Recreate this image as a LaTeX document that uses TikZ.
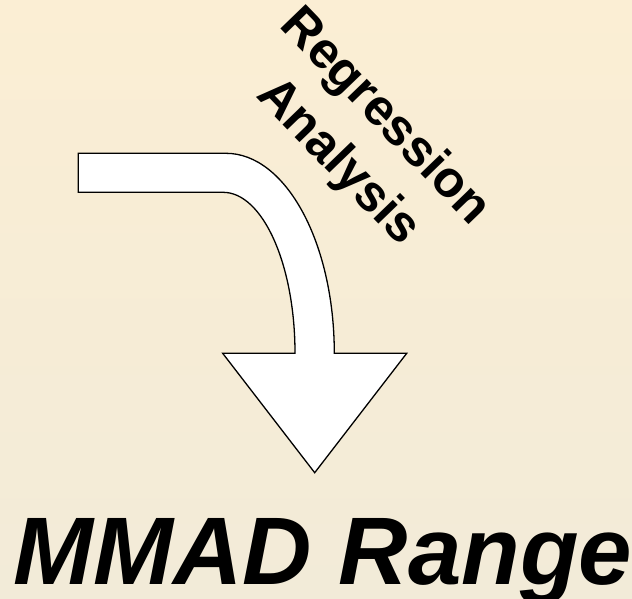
\documentclass[tikz,border=0pt]{standalone}
\usepackage{fontspec}
\setmainfont{Liberation Sans}
\definecolor{bgtop}{HTML}{FBEED4}
\definecolor{bgbottom}{HTML}{F2EBD8}
\begin{document}
\begin{tikzpicture}[x=1pt,y=-1pt,
  bentarrow/.style={draw=black,fill=white,line width=1.3pt,line join=miter},
  steplabel/.style={font=\bfseries\fontsize{51}{65}\selectfont,align=center,inner sep=0pt},
  resultlabel/.style={font=\bfseries\itshape\fontsize{96}{110}\selectfont,inner sep=0pt}]
  % background
  \shade[top color=bgtop,bottom color=bgbottom] (0,0) rectangle (632,598);
  \useasboundingbox (0,0) rectangle (632,598);
  % bent arrow
  \draw[bentarrow] (78.3,153.3) -- (226,153.3)
    .. controls (285.6,153.3) and (334.3,242.5) .. (334.3,353.3)
    -- (406.7,353.3) -- (314.7,472.7) -- (222.7,353.3) -- (295,353.3)
    .. controls (295,264) and (262.5,192.3) .. (223,192.3)
    -- (78.3,192.3) -- cycle;
  % labels
  \node[steplabel,rotate=-46] (reg) at (361,140) {Regression\\Analysis};
  \node[resultlabel,anchor=base] (mmad) at (323,584) {MMAD Range};
\end{tikzpicture}
\end{document}
